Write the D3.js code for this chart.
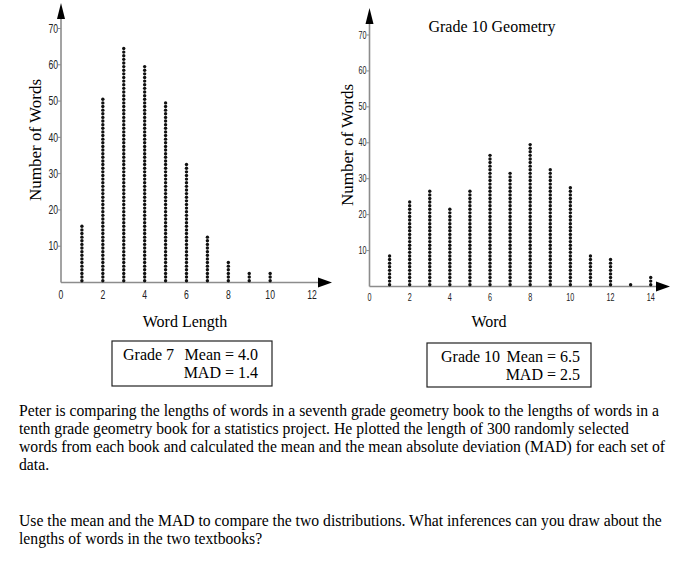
<!DOCTYPE html>
<html>
<head>
<meta charset="utf-8">
<script src="https://cdn.jsdelivr.net/npm/d3@7"></script>
<style>
  body { margin: 0; background: white; }
  svg { display: block; }
  .serif { font-family: "Liberation Serif", "Times New Roman", Times, serif; }
  .narrow { font-family: "Liberation Sans", Arial, sans-serif; }
</style>
</head>
<body>
<svg width="680" height="564"></svg>
<script>
// word length counts
var grade7Lengths = [1, 2, 3, 4, 5, 6, 7, 8, 9, 10]
var grade7Counts = [16, 51, 65, 60, 50, 33, 13, 6, 3, 3]
var grade10Lengths = [1, 2, 3, 4, 5, 6, 7, 8, 9, 10, 11, 12, 13, 14]
var grade10Counts = [9, 24, 27, 22, 27, 37, 32, 40, 33, 28, 9, 8, 1, 3]
var yTicks = [10, 20, 30, 40, 50, 60, 70]
var grade7XTicks = [0, 2, 4, 6, 8, 10, 12]
var grade10XTicks = [0, 2, 4, 6, 8, 10, 12, 14]

var paragraph1 = [
  "Peter is comparing the lengths of words in a seventh grade geometry book to the lengths of words in a",
  "tenth grade geometry book for a statistics project. He plotted the length of 300 randomly selected",
  "words from each book and calculated the mean and the mean absolute deviation (MAD) for each set of",
  "data."
]
var paragraph2 = [
  "Use the mean and the MAD to compare the two distributions. What inferences can you draw about the",
  "lengths of words in the two textbooks?"
]

var svg = d3.select("svg")

function dotPlot(opts) {
  var x = d3.scaleLinear().domain([0, opts.xMax]).range([opts.x0, opts.x1])
  var y = d3.scaleLinear().domain([0, 70]).range([opts.y0, opts.y1])
  var g = svg.append("g")

  // axes lines
  g.append("line").attr("x1", x(0)).attr("x2", opts.arrowX - 10)
    .attr("y1", opts.y0).attr("y2", opts.y0)
    .attr("stroke", "#8c8c8c").attr("stroke-width", 1.6)
  g.append("line").attr("x1", x(0)).attr("x2", x(0))
    .attr("y1", opts.y0).attr("y2", opts.arrowY + 12)
    .attr("stroke", "#8c8c8c").attr("stroke-width", 1.6)
  // arrow heads
  g.append("path")
    .attr("d", "M" + opts.arrowX + "," + opts.y0 + " L" + (opts.arrowX - 14) + "," + (opts.y0 - 5) + " L" + (opts.arrowX - 14) + "," + (opts.y0 + 5) + "Z")
    .attr("fill", "black")
  g.append("path")
    .attr("d", "M" + x(0) + "," + opts.arrowY + " L" + (x(0) - 4) + "," + (opts.arrowY + 16) + " L" + (x(0) + 4) + "," + (opts.arrowY + 16) + "Z")
    .attr("fill", "black")

  // y ticks (condensed look by squeezing the text horizontally)
  var yt = g.selectAll(".yt").data(yTicks).enter().append("g")
    .attr("transform", d => "translate(" + x(0) + "," + y(d) + ")")
  yt.append("line").attr("x1", -3).attr("x2", 0).attr("stroke", "#8c8c8c")
  yt.append("text").text(d => d).attr("transform", "translate(-3,0) scale(0.72,1)")
    .attr("dy", "0.35em").attr("class", "narrow").attr("text-anchor", "end")
    .attr("font-size", opts.tickSize).attr("fill", "#222")

  // x tick labels
  g.selectAll(".xt").data(opts.xTicks).enter().append("text")
    .text(d => d)
    .attr("transform", d => "translate(" + x(d) + "," + (opts.y0 + opts.tickSize + 4) + ") scale(0.72,1)")
    .attr("class", "narrow").attr("text-anchor", "middle")
    .attr("font-size", opts.tickSize).attr("fill", "#222")

  // dot columns
  opts.lengths.forEach(function (len, i) {
    var dots = d3.range(opts.counts[i])
    g.selectAll(null).data(dots).enter().append("circle")
      .attr("cx", x(len)).attr("cy", d => y(d + 0.5))
      .attr("r", 1.7).attr("fill", "#111")
  })

  // y axis label
  g.append("text").text("Number of Words")
    .attr("transform", "translate(" + opts.yLabelX + "," + opts.yLabelY + ") rotate(-90)")
    .attr("text-anchor", "middle").attr("class", "serif").attr("font-size", 17)
  // x axis label
  g.append("text").text(opts.xLabel).attr("x", opts.xLabelX).attr("y", 327)
    .attr("text-anchor", "middle").attr("class", "serif").attr("font-size", 16)
}

dotPlot({
  xMax: 12, x0: 61, x1: 312, y0: 282.5, y1: 28.5, arrowX: 332, arrowY: 3,
  lengths: grade7Lengths, counts: grade7Counts, xTicks: grade7XTicks, tickSize: 12,
  yLabelX: 41, yLabelY: 140, xLabel: "Word Length", xLabelX: 185
})
dotPlot({
  xMax: 14, x0: 369.5, x1: 650.7, y0: 286.5, y1: 35, arrowX: 670, arrowY: 8,
  lengths: grade10Lengths, counts: grade10Counts, xTicks: grade10XTicks, tickSize: 10,
  yLabelX: 353, yLabelY: 145, xLabel: "Word", xLabelX: 489
})

svg.append("text").text("Grade 10 Geometry").attr("x", 492).attr("y", 32)
  .attr("text-anchor", "middle").attr("class", "serif").attr("font-size", 16)

// summary boxes
function statBox(bx, by, bw, bh, grade, mean, mad, gradeX, rightX) {
  svg.append("rect").attr("x", bx).attr("y", by).attr("width", bw).attr("height", bh)
    .attr("fill", "none").attr("stroke", "#222").attr("stroke-width", 1.2)
  svg.append("text").text(grade).attr("x", gradeX).attr("y", by + 19)
    .attr("class", "serif").attr("font-size", 16)
  svg.append("text").text("Mean = " + mean).attr("x", rightX).attr("y", by + 19)
    .attr("text-anchor", "end").attr("class", "serif").attr("font-size", 16)
  svg.append("text").text("MAD = " + mad).attr("x", rightX).attr("y", by + 37)
    .attr("text-anchor", "end").attr("class", "serif").attr("font-size", 16)
}
statBox(112, 341, 160, 45, "Grade 7", "4.0", "1.4", 123, 258)
statBox(427, 343, 164, 44, "Grade 10", "6.5", "2.5", 441, 580)

// question text
svg.selectAll(".p1").data(paragraph1).enter().append("text")
  .text(d => d).attr("x", 19).attr("y", (d, i) => 416 + i * 18)
  .attr("class", "serif").attr("font-size", 15.7)
svg.selectAll(".p2").data(paragraph2).enter().append("text")
  .text(d => d).attr("x", 19).attr("y", (d, i) => 526 + i * 18)
  .attr("class", "serif").attr("font-size", 15.7)
</script>
</body>
</html>
